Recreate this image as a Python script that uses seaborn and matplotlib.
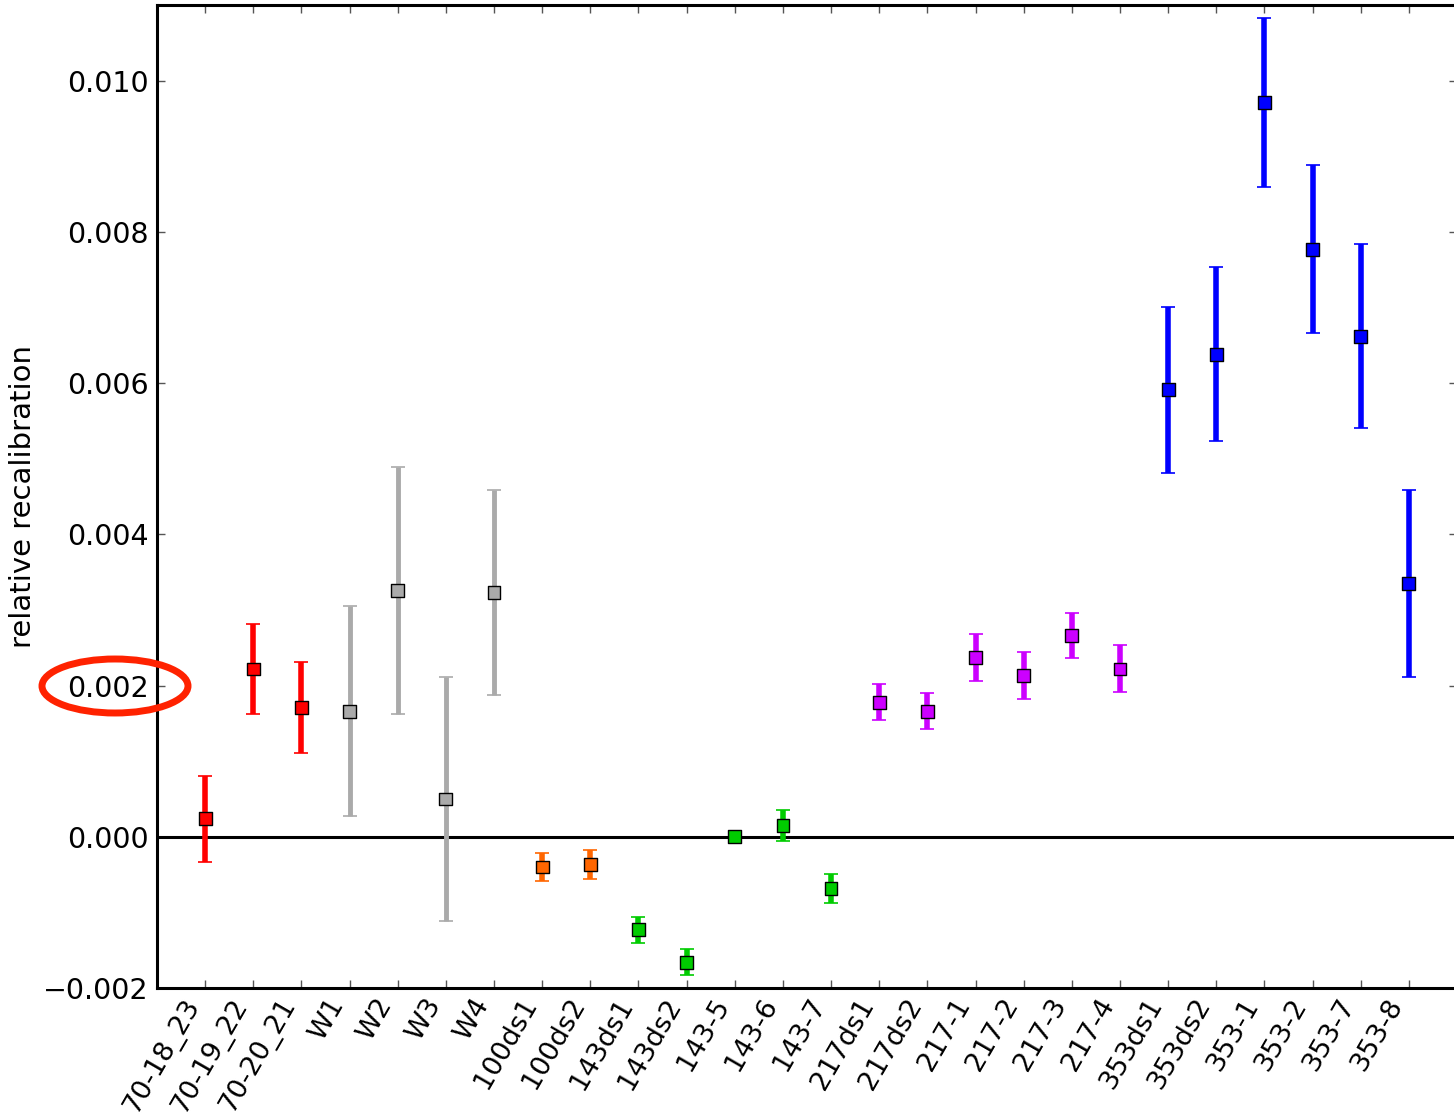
import numpy as np
import pandas as pd
import matplotlib
matplotlib.use("Agg")
import matplotlib.pyplot as plt
from matplotlib.patches import Ellipse
import seaborn as sns

# ── data ─────────────────────────────────────────────────────────────────────
labels = ["70-18_23", "70-19_22", "70-20_21", "W1", "W2", "W3", "W4",
          "100ds1", "100ds2", "143ds1", "143ds2", "143-5", "143-6", "143-7",
          "217ds1", "217ds2", "217-1", "217-2", "217-3", "217-4",
          "353ds1", "353ds2", "353-1", "353-2", "353-7", "353-8"]
values = [0.00024, 0.00222, 0.00171, 0.00166, 0.00326, 0.00050, 0.00323,
          -0.00040, -0.00037, -0.00123, -0.00166, 0.00000, 0.00015, -0.00068,
          0.00178, 0.00166, 0.00237, 0.00213, 0.00266, 0.00222,
          0.00591, 0.00638, 0.00971, 0.00777, 0.00662, 0.00335]
errors = [0.00057, 0.00059, 0.00060, 0.00139, 0.00163, 0.00161, 0.00135,
          0.00019, 0.00019, 0.00017, 0.00017, 0.00004, 0.00020, 0.00019,
          0.00024, 0.00024, 0.00031, 0.00031, 0.00030, 0.00031,
          0.00110, 0.00115, 0.00112, 0.00111, 0.00122, 0.00124]
groups = ["70"] * 3 + ["W"] * 4 + ["100"] * 2 + ["143"] * 5 + ["217"] * 6 + ["353"] * 6

GROUP_COLORS = {"70": "#ff0000", "W": "#aaaaaa", "100": "#ff6600",
                "143": "#00cc00", "217": "#cc00ff", "353": "#0000ff"}

df = pd.DataFrame({"label": labels, "value": values, "err": errors, "group": groups})
df["x"] = np.arange(len(df))

# ── figure ───────────────────────────────────────────────────────────────────
sns.set_style("ticks")
plt.rcParams["font.family"] = ["DejaVu Sans"]
plt.rcParams["text.color"] = "black"
plt.rcParams["axes.labelcolor"] = "black"

fig = plt.figure(figsize=(14.54, 11.17), dpi=100)
ax = fig.add_axes([157 / 1454, 1 - 988 / 1117, 1300 / 1454, 983 / 1117])

ax.axhline(0, color="black", lw=2.2, zorder=1)

for g, sub in df.groupby("group", sort=False):
    ax.errorbar(sub["x"], sub["value"], yerr=sub["err"], fmt="none",
                ecolor=GROUP_COLORS[g], elinewidth=3.5 if g == "W" else 4,
                capsize=5, capthick=1.2, zorder=2)

sns.scatterplot(data=df, x="x", y="value", hue="group", palette=GROUP_COLORS,
                marker="s", s=85, edgecolor="black", linewidth=1,
                legend=False, zorder=3, ax=ax)

ax.set_xlim(-1, 26)
ax.set_ylim(-0.002, 0.011)
ax.set_xticks(df["x"])
ax.set_xticklabels(df["label"], rotation=60, ha="right", rotation_mode="default")
ax.set_yticks(np.arange(-0.002, 0.0101, 0.002))
ax.yaxis.set_major_formatter(matplotlib.ticker.FuncFormatter(
    lambda v, _: f"{v:.3f}".replace("-", "\u2212")))
ax.set_xlabel("")
ax.set_ylabel("relative recalibration", fontsize=21, labelpad=4)

ax.tick_params(axis="both", which="major", direction="in", length=6, width=1,
               color="#555555", labelcolor="black", pad=6,
               top=True, right=True)
ax.tick_params(axis="y", labelsize=20.5)
ax.tick_params(axis="x", labelsize=19.5, pad=4)
for sp in ax.spines.values():
    sp.set_linewidth(2.2)
    sp.set_color("black")

# red ellipse highlighting the 0.002 tick label
fig.add_artist(Ellipse((115 / 1454, 1 - 686 / 1117), 146 / 1454, 54 / 1117,
                       transform=fig.transFigure, fill=False,
                       edgecolor="#ff2200", lw=5, clip_on=False))

fig.savefig("out.png", dpi=100)
